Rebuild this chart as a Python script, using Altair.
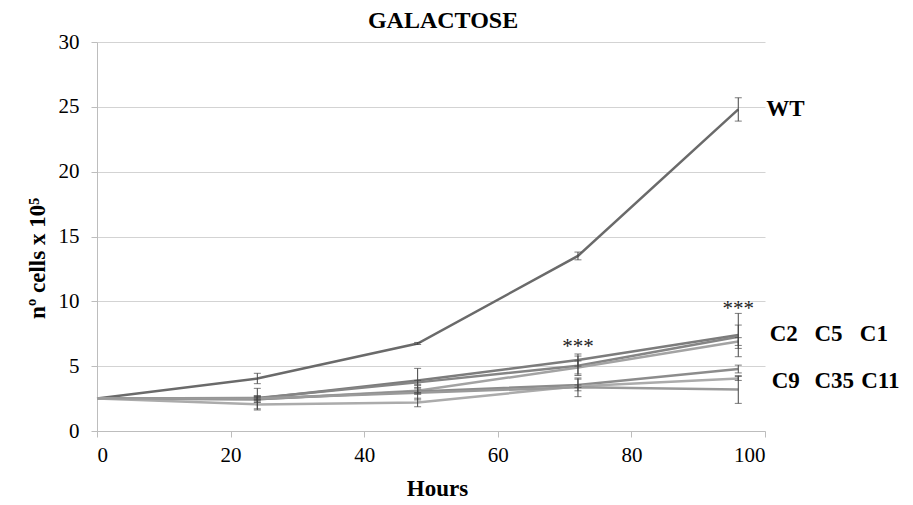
import altair as alt
import pandas as pd

hours = [0, 24, 48, 72, 96]
series = ["WT", "C2", "C5", "C1", "C9", "C35", "C11"]
values = {
    "WT":  [2.5, 4.05, 6.75, 13.5, 24.8],
    "C2":  [2.5, 2.5, 3.9, 5.47, 7.4],
    "C5":  [2.5, 2.55, 3.75, 5.03, 7.27],
    "C1":  [2.5, 2.45, 3.1, 4.9, 6.9],
    "C9":  [2.5, 2.45, 3.05, 3.55, 4.78],
    "C35": [2.5, 2.05, 2.2, 3.45, 4.05],
    "C11": [2.5, 2.5, 2.95, 3.37, 3.2],
}
errors = {
    "WT":  [0, 0.4, 0.08, 0.3, 0.9],
    "C2":  [0, 0.79, 0.93, 0.47, 1.67],
    "C5":  [0, 0.17, 0.15, 0.75, 0.9],
    "C1":  [0, 0.2, 0.25, 0.5, 0.3],
    "C9":  [0, 0.25, 0.2, 0.45, 0.3],
    "C35": [0, 0.43, 0.33, 0.1, 0.15],
    "C11": [0, 0.1, 0.55, 0.72, 1.07],
}
colors = ["#6a6a6a", "#7c7c7c", "#858585", "#a3a3a3", "#8c8c8c", "#ababab", "#9a9a9a"]

label_text = ["WT", "C2", "C5", "C1", "C9", "C35", "C11"]
label_x = [100.2, 100.7, 107.4, 114.2, 101.0, 107.4, 114.4]
label_y = [24.8, 7.5, 7.5, 7.5, 3.85, 3.85, 3.85]

star_text = ["***", "***"]
star_x = [72, 96]
star_y = [6.0, 8.95]

title_text = ["GALACTOSE"]
title_x = [51.8]
title_y = [31.07]

FONT = "Liberation Serif"

rows = []
for s in series:
    for h, v, e in zip(hours, values[s], errors[s]):
        rows.append({"series": s, "hours": h, "cells": v, "lo": v - e, "hi": v + e, "err": e})
df = pd.DataFrame(rows)
err_df = df[df["err"] > 0]

lab_df = pd.DataFrame({"text": label_text, "x": label_x, "y": label_y})
star_df = pd.DataFrame({"text": star_text, "x": star_x, "y": star_y})
title_df = pd.DataFrame({"text": title_text, "x": title_x, "y": title_y})

xs = alt.Scale(domain=[0, 100], nice=False)
ys = alt.Scale(domain=[0, 30], nice=False)

color = alt.Color("series:N", scale=alt.Scale(domain=series, range=colors), legend=None)

lines = alt.Chart(df).mark_line(strokeWidth=2.5).encode(
    x=alt.X("hours:Q", scale=xs, title="Hours",
            axis=alt.Axis(values=[0, 20, 40, 60, 80, 100], grid=False, tickSize=6,
                          labelPadding=7, titlePadding=12, labelFontSize=21,
                          titleFontSize=23, titleFontWeight="bold", titleX=340)),
    y=alt.Y("cells:Q", scale=ys, title="nº cells x 10⁵",
            axis=alt.Axis(values=[0, 5, 10, 15, 20, 25, 30], tickSize=6, labelPadding=12,
                          labelFontSize=21, titleFontSize=23, titleFontWeight="bold",
                          titlePadding=9, titleY=216)),
    color=color,
    order=alt.Order("hours:Q"),
    detail="series:N",
)

bars = alt.Chart(err_df).mark_rule(color="#444444", strokeWidth=1).encode(
    x=alt.X("hours:Q", scale=xs), y=alt.Y("lo:Q", scale=ys), y2="hi:Q"
)
cap_lo = alt.Chart(err_df).mark_tick(color="#444444", orient="horizontal", size=7, thickness=1).encode(
    x=alt.X("hours:Q", scale=xs), y=alt.Y("lo:Q", scale=ys)
)
cap_hi = alt.Chart(err_df).mark_tick(color="#444444", orient="horizontal", size=7, thickness=1).encode(
    x=alt.X("hours:Q", scale=xs), y=alt.Y("hi:Q", scale=ys)
)

labels = alt.Chart(lab_df).mark_text(
    font=FONT, fontWeight="bold", fontSize=23, align="left",
    baseline="middle", color="black"
).encode(x=alt.X("x:Q", scale=xs), y=alt.Y("y:Q", scale=ys), text="text:N")

stars = alt.Chart(star_df).mark_text(
    font=FONT, fontSize=21, align="center", baseline="alphabetic", color="#222222"
).encode(x=alt.X("x:Q", scale=xs), y=alt.Y("y:Q", scale=ys), text="text:N")

title = alt.Chart(title_df).mark_text(
    font=FONT, fontSize=24, fontWeight="bold", align="center", baseline="alphabetic",
    color="black"
).encode(x=alt.X("x:Q", scale=xs), y=alt.Y("y:Q", scale=ys), text="text:N")

chart = alt.layer(lines, bars, cap_lo, cap_hi, stars, labels, title).properties(
    width=668, height=389,
    autosize=alt.AutoSizeParams(type="none"),
    padding={"left": 97, "top": 42, "right": 148, "bottom": 74},
).configure_view(stroke=None).configure_axis(
    labelFont=FONT, titleFont=FONT,
    labelColor="black", titleColor="black",
    domainColor="#bdbdbd", tickColor="#bdbdbd", gridColor="#d3d3d3",
    domainWidth=1, gridWidth=1,
)

chart.save("out.html", embed_options={"renderer": "svg", "actions": False})
